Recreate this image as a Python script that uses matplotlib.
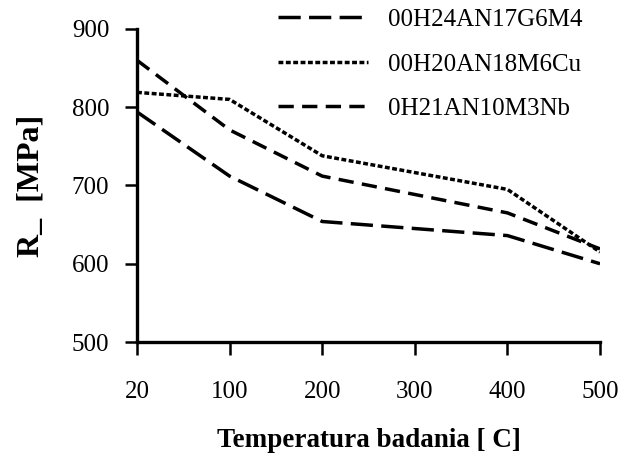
import matplotlib
matplotlib.use("Agg")
import matplotlib.pyplot as plt

plt.rcParams['font.family'] = ['Liberation Serif', 'DejaVu Serif']
plt.rcParams['lines.scale_dashes'] = False

categories = ["20", "100", "200", "300", "400", "500"]
# measurement temperatures (category index) — no measurement at 300
x_idx = [0, 1, 2, 4, 5]
s1_name = "00H24AN17G6M4"
s1 = [794, 712, 654, 636, 600]
s2_name = "00H20AN18M6Cu"
s2 = [819, 810, 738, 695, 615]
s3_name = "0H21AN10M3Nb"
s3 = [860, 771, 712, 665, 619]

fig = plt.figure(figsize=(6.27, 4.57), dpi=100)
ax = fig.add_axes([0.2185, 0.2516, 0.7385, 0.685])

lw = 2.5
ax.plot(x_idx, s1, color='black', lw=lw, linestyle=(0, (16, 6)), label=s1_name)
ax.plot(x_idx, s2, color='black', lw=lw, linestyle=(0, (3.5, 1.8)), label=s2_name)
ax.plot(x_idx, s3, color='black', lw=lw, linestyle=(0, (11, 6)), label=s3_name)

ax.set_xlim(0, 5)
ax.set_ylim(500, 900)
ax.set_xticks(range(len(categories)))
ax.set_xticklabels(categories)
ax.set_yticks([500, 600, 700, 800, 900])

for s in ['top', 'right']:
    ax.spines[s].set_visible(False)
for s in ['left', 'bottom']:
    ax.spines[s].set_linewidth(2.4)
    ax.spines[s].set_clip_on(False)

ax.tick_params(axis='both', direction='out', length=9, width=1.8, labelsize=18)
ax.tick_params(axis='y', pad=11)
ax.tick_params(axis='x', pad=19)

ax.set_xlabel("Temperatura badania [ C]", fontsize=19.5, fontweight='bold', labelpad=18)
ax.set_ylabel("R_  [MPa]", fontsize=23, fontweight='bold', labelpad=19)

leg = ax.legend(loc='upper right', bbox_to_anchor=(1.01, 1.137), frameon=False,
                fontsize=18, handlelength=3.6, handletextpad=0.8, labelspacing=0.88)

fig.savefig("out.png", dpi=100)
